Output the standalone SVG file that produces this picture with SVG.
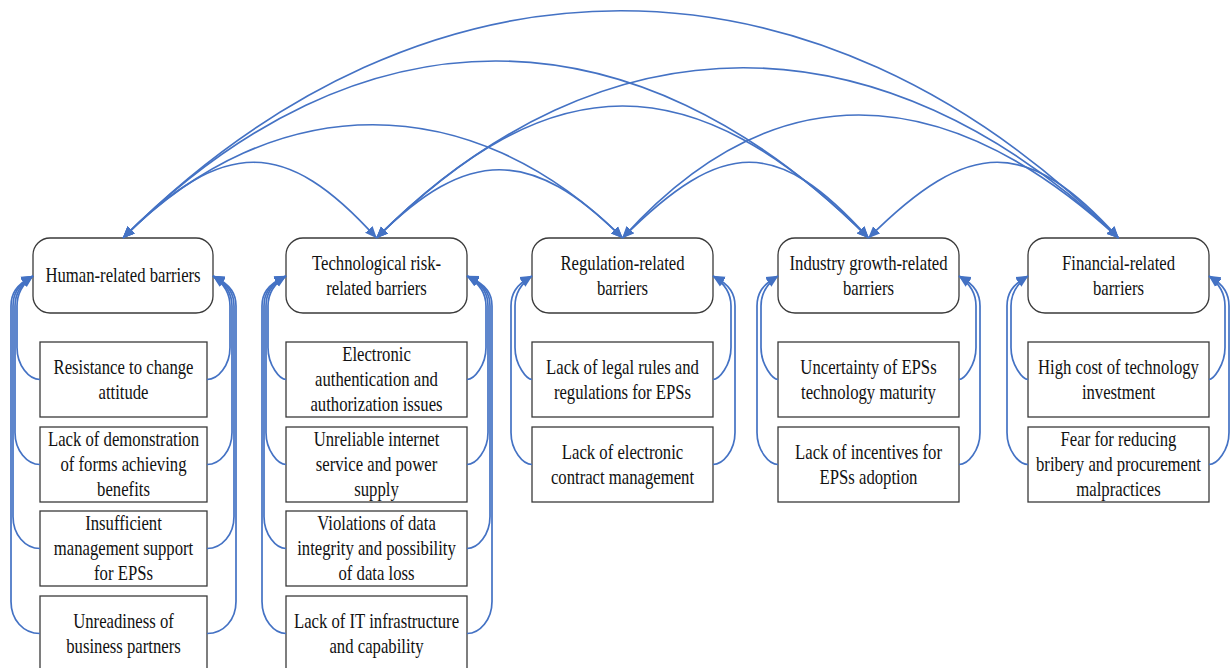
<svg xmlns="http://www.w3.org/2000/svg" width="1231" height="668" viewBox="0 0 1231 668">
  <defs>
    <style>
      .cat rect, .item rect { fill: #ffffff; stroke: #3a3a3a; stroke-width: 1.3; }
      .lbl { font-family: "Liberation Serif", "Times New Roman", serif; font-size: 16.7px; fill: #111111; text-anchor: middle; }
      .link { fill: none; stroke: #4472C4; stroke-width: 1.7; marker-end: url(#arrow); }
      .arc { fill: none; stroke: #4472C4; stroke-width: 1.7; marker-start: url(#arrow); marker-end: url(#arrow); }
    </style>
    <marker id="arrow" viewBox="0 0 12 12" refX="11.5" refY="6" markerWidth="12" markerHeight="12" markerUnits="userSpaceOnUse" orient="auto-start-reverse">
      <path d="M0,1 L12,6 L0,11 z" fill="#4472C4"/>
    </marker>
  </defs>

  <rect x="0" y="0" width="1231" height="668" fill="#ffffff"/>

  <!-- Category nodes -->
  <g id="human" class="cat">
    <rect x="33" y="238" width="180" height="75" rx="17"/>
    <text class="lbl" transform="translate(123,275.5) scale(1,1.26)"><tspan x="0" y="5.2">Human-related barriers</tspan></text>
  </g>
  <g id="tech" class="cat">
    <rect x="286" y="238" width="181" height="75" rx="17"/>
    <text class="lbl" transform="translate(376.5,275.5) scale(1,1.26)"><tspan x="0" y="-4.72">Technological risk-</tspan><tspan x="0" y="15.12">related barriers</tspan></text>
  </g>
  <g id="regulation" class="cat">
    <rect x="532" y="238" width="181" height="75" rx="17"/>
    <text class="lbl" transform="translate(622.5,275.5) scale(1,1.26)"><tspan x="0" y="-4.72">Regulation-related</tspan><tspan x="0" y="15.12">barriers</tspan></text>
  </g>
  <g id="industry" class="cat">
    <rect x="778" y="238" width="181" height="75" rx="17"/>
    <text class="lbl" transform="translate(868.5,275.5) scale(1,1.26)"><tspan x="0" y="-4.72">Industry growth-related</tspan><tspan x="0" y="15.12">barriers</tspan></text>
  </g>
  <g id="financial" class="cat">
    <rect x="1028" y="238" width="181" height="75" rx="17"/>
    <text class="lbl" transform="translate(1118.5,275.5) scale(1,1.26)"><tspan x="0" y="-4.72">Financial-related</tspan><tspan x="0" y="15.12">barriers</tspan></text>
  </g>

  <!-- Human-related items -->
  <g id="h1" class="item">
    <rect x="40" y="342" width="167" height="75"/>
    <text class="lbl" transform="translate(123.5,379.5) scale(1,1.26)"><tspan x="0" y="-4.72">Resistance to change</tspan><tspan x="0" y="15.12">attitude</tspan></text>
  </g>
  <g id="h2" class="item">
    <rect x="40" y="427" width="167" height="75"/>
    <text class="lbl" transform="translate(123.5,464.5) scale(1,1.26)"><tspan x="0" y="-14.64">Lack of demonstration</tspan><tspan x="0" y="5.2">of forms achieving</tspan><tspan x="0" y="25.04">benefits</tspan></text>
  </g>
  <g id="h3" class="item">
    <rect x="40" y="511" width="167" height="75"/>
    <text class="lbl" transform="translate(123.5,548.5) scale(1,1.26)"><tspan x="0" y="-14.64">Insufficient</tspan><tspan x="0" y="5.2">management support</tspan><tspan x="0" y="25.04">for EPSs</tspan></text>
  </g>
  <g id="h4" class="item">
    <rect x="40" y="596" width="167" height="75"/>
    <text class="lbl" transform="translate(123.5,633.5) scale(1,1.26)"><tspan x="0" y="-4.72">Unreadiness of</tspan><tspan x="0" y="15.12">business partners</tspan></text>
  </g>

  <!-- Technological risk-related items -->
  <g id="t1" class="item">
    <rect x="286" y="342" width="181" height="75"/>
    <text class="lbl" transform="translate(376.5,379.5) scale(1,1.26)"><tspan x="0" y="-14.64">Electronic</tspan><tspan x="0" y="5.2">authentication and</tspan><tspan x="0" y="25.04">authorization issues</tspan></text>
  </g>
  <g id="t2" class="item">
    <rect x="286" y="427" width="181" height="75"/>
    <text class="lbl" transform="translate(376.5,464.5) scale(1,1.26)"><tspan x="0" y="-14.64">Unreliable internet</tspan><tspan x="0" y="5.2">service and power</tspan><tspan x="0" y="25.04">supply</tspan></text>
  </g>
  <g id="t3" class="item">
    <rect x="286" y="511" width="181" height="75"/>
    <text class="lbl" transform="translate(376.5,548.5) scale(1,1.26)"><tspan x="0" y="-14.64">Violations of data</tspan><tspan x="0" y="5.2">integrity and possibility</tspan><tspan x="0" y="25.04">of data loss</tspan></text>
  </g>
  <g id="t4" class="item">
    <rect x="286" y="596" width="181" height="75"/>
    <text class="lbl" transform="translate(376.5,633.5) scale(1,1.26)"><tspan x="0" y="-4.72">Lack of IT infrastructure</tspan><tspan x="0" y="15.12">and capability</tspan></text>
  </g>

  <!-- Regulation-related items -->
  <g id="r1" class="item">
    <rect x="532" y="342" width="181" height="75"/>
    <text class="lbl" transform="translate(622.5,379.5) scale(1,1.26)"><tspan x="0" y="-4.72">Lack of legal rules and</tspan><tspan x="0" y="15.12">regulations for EPSs</tspan></text>
  </g>
  <g id="r2" class="item">
    <rect x="532" y="427" width="181" height="75"/>
    <text class="lbl" transform="translate(622.5,464.5) scale(1,1.26)"><tspan x="0" y="-4.72">Lack of electronic</tspan><tspan x="0" y="15.12">contract management</tspan></text>
  </g>

  <!-- Industry growth-related items -->
  <g id="i1" class="item">
    <rect x="778" y="342" width="181" height="75"/>
    <text class="lbl" transform="translate(868.5,379.5) scale(1,1.26)"><tspan x="0" y="-4.72">Uncertainty of EPSs</tspan><tspan x="0" y="15.12">technology maturity</tspan></text>
  </g>
  <g id="i2" class="item">
    <rect x="778" y="427" width="181" height="75"/>
    <text class="lbl" transform="translate(868.5,464.5) scale(1,1.26)"><tspan x="0" y="-4.72">Lack of incentives for</tspan><tspan x="0" y="15.12">EPSs adoption</tspan></text>
  </g>

  <!-- Financial-related items -->
  <g id="f1" class="item">
    <rect x="1028" y="342" width="181" height="75"/>
    <text class="lbl" transform="translate(1118.5,379.5) scale(1,1.26)"><tspan x="0" y="-4.72">High cost of technology</tspan><tspan x="0" y="15.12">investment</tspan></text>
  </g>
  <g id="f2" class="item">
    <rect x="1028" y="427" width="181" height="75"/>
    <text class="lbl" transform="translate(1118.5,464.5) scale(1,1.26)"><tspan x="0" y="-14.64">Fear for reducing</tspan><tspan x="0" y="5.2">bribery and procurement</tspan><tspan x="0" y="25.04">malpractices</tspan></text>
  </g>

  <g id="connectors">
    <!-- correlations between categories (double-headed arcs) -->
    <path class="arc" d="M123,238 C224,137 285.5,137 376.5,238"/>
    <path class="arc" d="M376.5,238 C467.5,147 531.5,147 622.5,238"/>
    <path class="arc" d="M622.5,238 C723.5,137 777.5,137 868.5,238"/>
    <path class="arc" d="M868.5,238 C969.5,137 1027.5,137 1118.5,238"/>
    <path class="arc" d="M123,238 C274,87 471.5,87 622.5,238"/>
    <path class="arc" d="M376.5,238 C552.5,62 692.5,62 868.5,238"/>
    <path class="arc" d="M622.5,238 C770,74 940,74 1118.5,238"/>
    <path class="arc" d="M123,238 C359,2 632.5,2 868.5,238"/>
    <path class="arc" d="M376.5,238 C603.5,11 880,11 1118.5,238"/>
    <path class="arc" d="M123,238 C426,-65 815.5,-65 1118.5,238"/>

    <!-- human-related: left side -->
    <path class="link" d="M40,379.5 C29,379.5 17,365.5 17,347.5 L17,306 C17,295 21,285 33,276"/>
    <path class="link" d="M40,464.5 C27,464.5 15,450.5 15,432.5 L15,306 C15,295 19,285 33,276"/>
    <path class="link" d="M40,548.5 C25,548.5 13,534.5 13,516.5 L13,306 C13,295 17,285 33,276"/>
    <path class="link" d="M40,633.5 C23,633.5 11,619.5 11,601.5 L11,306 C11,295 15,285 33,276"/>
    <!-- human-related: right side -->
    <path class="link" d="M207,379.5 C218,379.5 230,365.5 230,347.5 L230,306 C230,295 226,285 213,276"/>
    <path class="link" d="M207,464.5 C220,464.5 232,450.5 232,432.5 L232,306 C232,295 228,285 213,276"/>
    <path class="link" d="M207,548.5 C222,548.5 234,534.5 234,516.5 L234,306 C234,295 230,285 213,276"/>
    <path class="link" d="M207,633.5 C224,633.5 236,619.5 236,601.5 L236,306 C236,295 232,285 213,276"/>

    <!-- technological risk-related -->
    <path class="link" d="M286,379.5 C280,379.5 268,365.5 268,347.5 L268,306 C268,295 272,285 286,276"/>
    <path class="link" d="M286,464.5 C278,464.5 266,450.5 266,432.5 L266,306 C266,295 270,285 286,276"/>
    <path class="link" d="M286,548.5 C276,548.5 264,534.5 264,516.5 L264,306 C264,295 268,285 286,276"/>
    <path class="link" d="M286,633.5 C274,633.5 262,619.5 262,601.5 L262,306 C262,295 266,285 286,276"/>
    <path class="link" d="M467,379.5 C474,379.5 486,365.5 486,347.5 L486,306 C486,295 482,285 467,276"/>
    <path class="link" d="M467,464.5 C476,464.5 488,450.5 488,432.5 L488,306 C488,295 484,285 467,276"/>
    <path class="link" d="M467,548.5 C478,548.5 490,534.5 490,516.5 L490,306 C490,295 486,285 467,276"/>
    <path class="link" d="M467,633.5 C480,633.5 492,619.5 492,601.5 L492,306 C492,295 488,285 467,276"/>

    <!-- regulation-related -->
    <path class="link" d="M532,379.5 C527,379.5 515,365.5 515,347.5 L515,306 C515,295 519,285 532,276"/>
    <path class="link" d="M532,464.5 C523,464.5 511,450.5 511,432.5 L511,306 C511,295 515,285 532,276"/>
    <path class="link" d="M713,379.5 C719,379.5 731,365.5 731,347.5 L731,306 C731,295 727,285 713,276"/>
    <path class="link" d="M713,464.5 C723,464.5 735,450.5 735,432.5 L735,306 C735,295 731,285 713,276"/>

    <!-- industry growth-related -->
    <path class="link" d="M778,379.5 C773,379.5 761,365.5 761,347.5 L761,306 C761,295 765,285 778,276"/>
    <path class="link" d="M778,464.5 C769,464.5 757,450.5 757,432.5 L757,306 C757,295 761,285 778,276"/>
    <path class="link" d="M959,379.5 C964,379.5 976,365.5 976,347.5 L976,306 C976,295 972,285 959,276"/>
    <path class="link" d="M959,464.5 C968,464.5 980,450.5 980,432.5 L980,306 C980,295 976,285 959,276"/>

    <!-- financial-related -->
    <path class="link" d="M1028,379.5 C1023,379.5 1011,365.5 1011,347.5 L1011,306 C1011,295 1015,285 1028,276"/>
    <path class="link" d="M1028,464.5 C1019,464.5 1007,450.5 1007,432.5 L1007,306 C1007,295 1011,285 1028,276"/>
    <path class="link" d="M1209,379.5 C1213,379.5 1225,365.5 1225,347.5 L1225,306 C1225,295 1221,285 1209,276"/>
    <path class="link" d="M1209,464.5 C1217,464.5 1229,450.5 1229,432.5 L1229,306 C1229,295 1225,285 1209,276"/>
  </g>
</svg>
